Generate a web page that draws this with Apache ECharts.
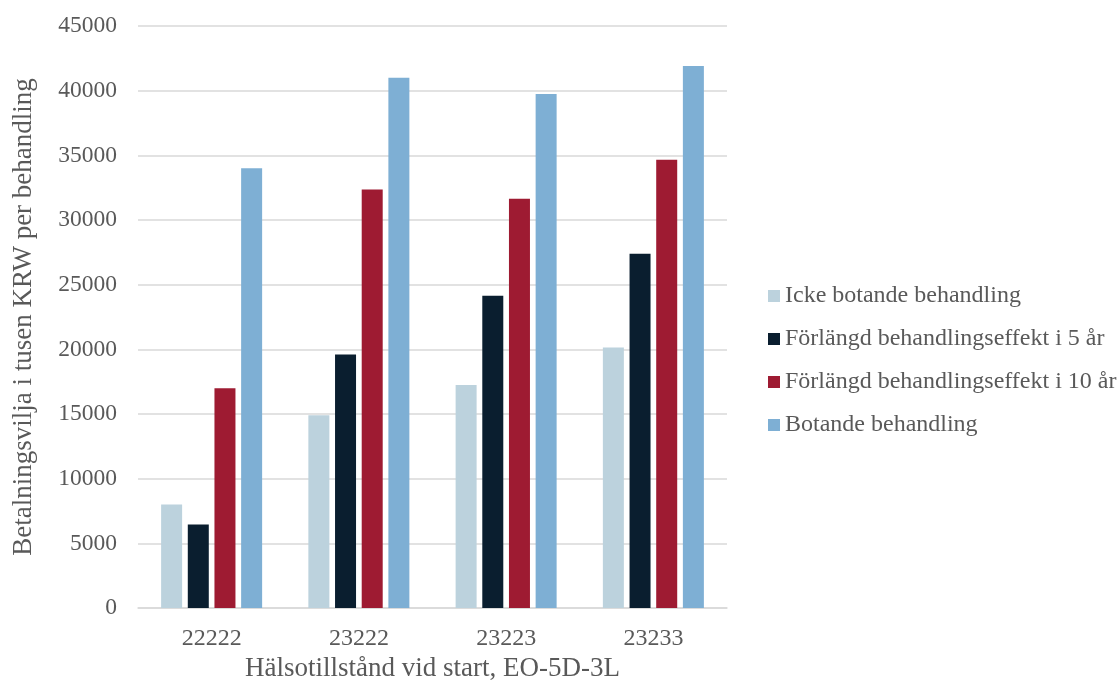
<!DOCTYPE html>
<html><head><meta charset="utf-8">
<script src="https://cdn.jsdelivr.net/npm/echarts@6/dist/echarts.min.js"></script>
<style>html,body{margin:0;padding:0;background:#fff}#c{width:1119px;height:683px}</style>
</head><body><div id="c"></div>
<script>
const categories = ['22222', '23222', '23223', '23233'];
const seriesNames = ['Icke botande behandling', 'Förlängd behandlingseffekt i 5 år', 'Förlängd behandlingseffekt i 10 år', 'Botande behandling'];
const ickeBotande = [8000, 14900, 17250, 20150];
const forlangd5 = [6450, 19600, 24150, 27400];
const forlangd10 = [17000, 32350, 31650, 34650];
const botande = [34000, 41000, 39750, 41900];
const colors = ['#BCD2DD', '#0A1E2F', '#9E1B32', '#7EAFD4'];
const values = [ickeBotande, forlangd5, forlangd10, botande];

const font = "'Liberation Serif', 'Times New Roman', serif";
const chart = echarts.init(document.getElementById('c'), null, {renderer: 'canvas'});
chart.setOption({
  animation: false,
  textStyle: {fontFamily: font},
  grid: {left: 138, right: 392, top: 26, bottom: 75, containLabel: false, outerBoundsMode: 'none'},
  legend: {
    orient: 'vertical', left: 763, top: 279, itemWidth: 12, itemHeight: 12, itemGap: 19,
    icon: 'rect',
    textStyle: {fontFamily: font, fontSize: 24, color: '#595959'},
    data: seriesNames
  },
  xAxis: {
    type: 'category', data: categories,
    name: 'Hälsotillstånd vid start, EO-5D-3L', nameLocation: 'middle', nameGap: 45,
    nameTextStyle: {fontFamily: font, fontSize: 27, color: '#595959'},
    axisLine: {lineStyle: {color: '#D9D9D9', width: 1.5}},
    axisTick: {show: false},
    axisLabel: {fontFamily: font, fontSize: 24, color: '#595959', margin: 19}
  },
  yAxis: {
    type: 'value', min: 0, max: 45000, interval: 5000,
    name: 'Betalningsvilja i tusen KRW per behandling', nameLocation: 'middle', nameGap: 101,
    nameTextStyle: {fontFamily: font, fontSize: 27, color: '#595959'},
    axisLine: {show: false}, axisTick: {show: false},
    axisLabel: {fontFamily: font, fontSize: 23.5, color: '#595959', margin: 21, formatter: v => String(v)},
    splitLine: {lineStyle: {color: '#D9D9D9', width: 1.5}}
  },
  series: seriesNames.map((n, i) => ({
    name: n, type: 'bar', data: values[i], barWidth: 21, barGap: '27%',
    itemStyle: {color: colors[i]}
  }))
});
</script></body></html>
